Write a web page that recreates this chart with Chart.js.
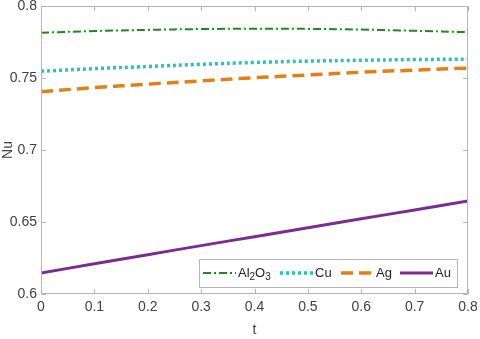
<!DOCTYPE html>
<html>
<head>
<meta charset="utf-8">
<script src="https://cdn.jsdelivr.net/npm/chart.js@4"></script>
<style>
  html, body { margin: 0; padding: 0; background: #fff; }
  #wrap { width: 480px; height: 339px; }
</style>
</head>
<body>
<div id="wrap"><canvas id="myChart" width="480" height="339"></canvas></div>
<script>
// valores
const tValues = [0, 0.1, 0.2, 0.3, 0.4, 0.5, 0.6, 0.7, 0.8];
const al2o3 = [0.7815, 0.7826, 0.7834, 0.7840, 0.7842, 0.7841, 0.7836, 0.7828, 0.7818];
const cu = [0.7547, 0.7565, 0.7580, 0.7595, 0.7608, 0.7617, 0.7623, 0.7628, 0.7631];
const ag = [0.7405, 0.7433, 0.7457, 0.7480, 0.7502, 0.7521, 0.7540, 0.7555, 0.7569];
const au = [0.6146, 0.6210, 0.6273, 0.6336, 0.6398, 0.6460, 0.6522, 0.6584, 0.6646];
const seriesNames = ["Al_2O_3", "Cu", "Ag", "Au"];
const xTicks = [0, 0.1, 0.2, 0.3, 0.4, 0.5, 0.6, 0.7, 0.8];
const yTicks = [0.6, 0.65, 0.7, 0.75, 0.8];

const axisGrey = "#b5b5b5";
const textGrey = "#404040";
const font = "'Liberation Sans', Arial, sans-serif";

function pts(ys) {
  return tValues.map((t, i) => ({ x: t, y: ys[i] }));
}

// caixa em volta + tracinhos para dentro (estilo matlab)
const boxPlugin = {
  id: "box",
  afterDatasetsDraw(chart) {
    const { ctx, chartArea: a, scales } = chart;
    ctx.save();
    ctx.strokeStyle = axisGrey;
    ctx.lineWidth = 1;
    ctx.strokeRect(a.left + 0.5, a.top + 0.5, a.width - 1, a.height - 1);
    ctx.beginPath();
    xTicks.forEach(v => {
      const x = Math.round(scales.x.getPixelForValue(v)) + 0.5;
      ctx.moveTo(x, a.bottom); ctx.lineTo(x, a.bottom - 5);
      ctx.moveTo(x, a.top); ctx.lineTo(x, a.top + 5);
    });
    yTicks.forEach(v => {
      const y = Math.round(scales.y.getPixelForValue(v)) + 0.5;
      ctx.moveTo(a.left, y); ctx.lineTo(a.left + 5, y);
      ctx.moveTo(a.right, y); ctx.lineTo(a.right - 5, y);
    });
    ctx.stroke();
    ctx.restore();
  }
};

// texto com subscrito: "Al_2O_3"
function drawSub(ctx, txt, x, y, size) {
  const parts = txt.split(/(_\d)/).filter(s => s);
  parts.forEach(p => {
    if (p[0] === "_") {
      ctx.font = (size - 3) + "px " + font;
      ctx.fillText(p.slice(1), x, y + 4);
      x += ctx.measureText(p.slice(1)).width;
    } else {
      ctx.font = size + "px " + font;
      ctx.fillText(p, x, y);
      x += ctx.measureText(p).width;
    }
  });
}

// legenda dentro do gráfico
const legendPlugin = {
  id: "legendBox",
  afterDraw(chart) {
    const { ctx } = chart;
    const left = 199, top = 259, right = 457, bottom = 287;
    const samples = [203, 280, 341, 400];
    const sampleW = 33;
    ctx.save();
    ctx.fillStyle = "#fff";
    ctx.fillRect(left, top, right - left, bottom - top);
    ctx.strokeStyle = axisGrey;
    ctx.lineWidth = 1;
    ctx.strokeRect(left + 0.5, top + 0.5, right - left, bottom - top);
    const yMid = 273;
    chart.data.datasets.forEach((ds, i) => {
      const x0 = samples[i];
      ctx.strokeStyle = ds.borderColor;
      ctx.lineWidth = ds.borderWidth;
      ctx.setLineDash(ds.borderDash || []);
      ctx.beginPath();
      ctx.moveTo(x0, yMid); ctx.lineTo(x0 + sampleW, yMid);
      ctx.stroke();
      ctx.setLineDash([]);
      ctx.fillStyle = "#222";
      ctx.textBaseline = "middle";
      drawSub(ctx, seriesNames[i], x0 + sampleW + 2, yMid, 13);
    });
    ctx.restore();
  }
};

new Chart("myChart", {
  type: "line",
  data: {
    datasets: [
      {
        label: "Al2O3",
        data: pts(al2o3),
        borderColor: "#1e8a1e",
        borderWidth: 2,
        borderDash: [8, 3, 2, 3],
        pointRadius: 0,
        tension: 0.4
      },
      {
        label: "Cu",
        data: pts(cu),
        borderColor: "#1fc4c4",
        borderWidth: 3.5,
        borderDash: [3, 3],
        pointRadius: 0,
        tension: 0.4
      },
      {
        label: "Ag",
        data: pts(ag),
        borderColor: "#e47e17",
        borderWidth: 3.5,
        borderDash: [12, 6],
        pointRadius: 0,
        tension: 0.4
      },
      {
        label: "Au",
        data: pts(au),
        borderColor: "#7b2d8e",
        borderWidth: 3,
        pointRadius: 0,
        tension: 0.4
      }
    ]
  },
  options: {
    responsive: false,
    animation: false,
    layout: { padding: 0 },
    plugins: { legend: { display: false }, tooltip: { enabled: false } },
    scales: {
      x: {
        type: "linear",
        min: 0, max: 0.8,
        afterBuildTicks: s => { s.ticks = xTicks.map(v => ({ value: v })); },
        afterFit: s => { s.height = 45; s.paddingLeft = 0; s.paddingRight = 12; },
        grid: { display: false, drawTicks: false },
        border: { display: false },
        ticks: { padding: 5, color: textGrey, font: { family: font, size: 14 },
                 maxRotation: 0, callback: v => String(v) },
        title: { display: true, text: "t", color: textGrey, padding: 0,
                 font: { family: font, size: 14 } }
      },
      y: {
        min: 0.6, max: 0.8,
        afterBuildTicks: s => { s.ticks = yTicks.map(v => ({ value: v })); },
        afterFit: s => { s.width = 41; s.paddingTop = 6; s.paddingBottom = 0; },
        grid: { display: false, drawTicks: false },
        border: { display: false },
        ticks: { padding: 4, color: textGrey, font: { family: font, size: 14 },
                 callback: v => String(v) },
        title: { display: true, text: "Nu", color: textGrey, padding: 0,
                 font: { family: font, size: 14 } }
      }
    }
  },
  plugins: [boxPlugin, legendPlugin]
});
</script>
</body>
</html>
